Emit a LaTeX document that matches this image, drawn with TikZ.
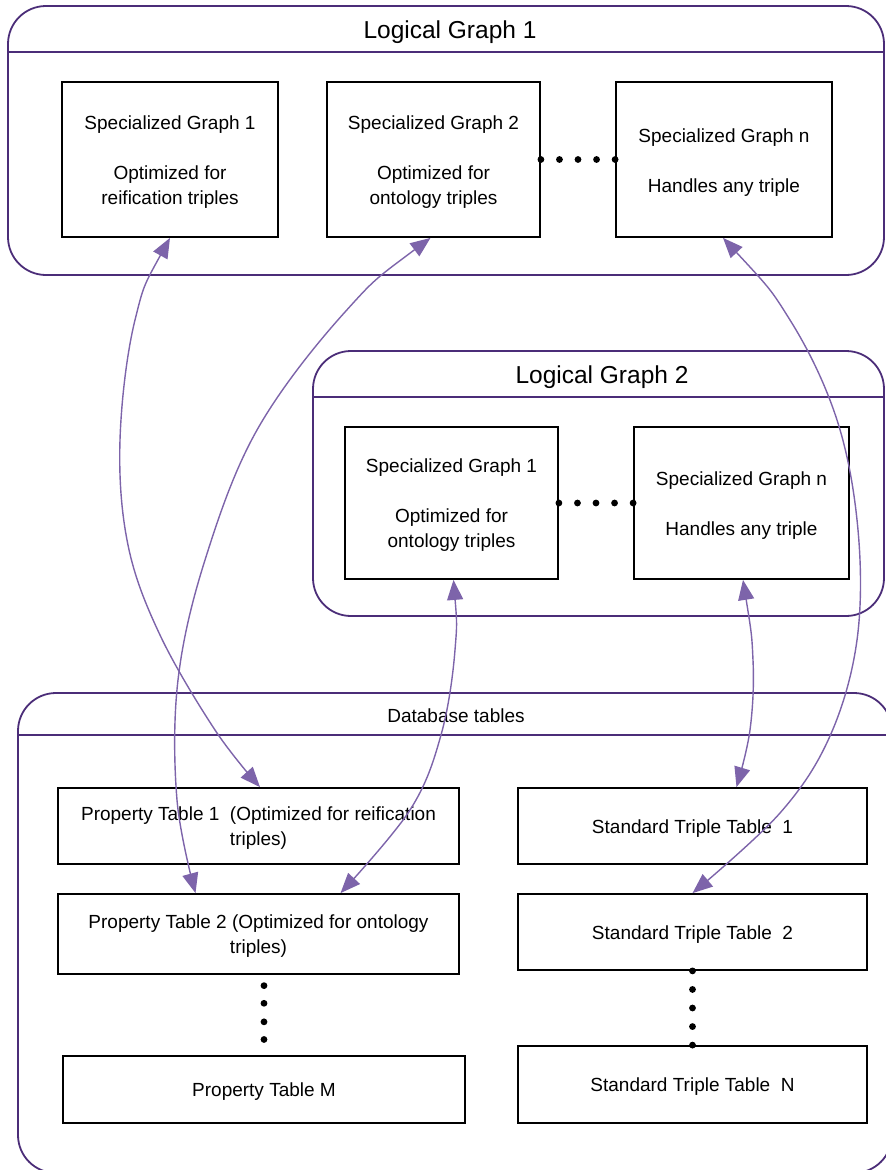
\documentclass[tikz,border=0pt]{standalone}
\usepackage{fontspec}
\setmainfont{Liberation Sans}
\usetikzlibrary{arrows.meta,calc}
\definecolor{contc}{RGB}{75,45,120}
\definecolor{arrc}{RGB}{125,100,170}
\begin{document}
\begin{tikzpicture}[x=1pt,y=-1pt,
  cont/.style={draw=contc, line width=1.8pt, rounded corners=38pt, inner sep=0pt, minimum width=#1},
  divline/.style={draw=contc, line width=1.8pt},
  box/.style={draw=black, line width=1.8pt, inner sep=0pt, align=center, font=\fontsize{19}{25}\selectfont},
  fourline/.style={text height=93pt},
  threeline/.style={text height=69pt},
  twoline/.style={text height=43pt},
  oneline/.style={text height=18.5pt},
  ttl/.style={font=\fontsize{24.5}{28}\selectfont},
  dbttl/.style={font=\fontsize{19}{22}\selectfont},
  link/.style={draw=arrc, line width=1.4pt, {Triangle[length=20pt,width=16pt]}-{Triangle[length=20pt,width=16pt]}},
  blackdot/.style={fill=black}]
\path[use as bounding box, clip] (0,0) rectangle (886,1170);

% containers
\node[cont=876pt, minimum height=269pt] (lg1) at (446,140.5) {};
\draw[divline] (lg1.north west) ++(0,47) -- ++(876,0);
\node[ttl] (lg1t) at (450,32) {Logical Graph 1};

\node[cont=571pt, minimum height=265pt] (lg2) at (598.5,483.5) {};
\draw[divline] (lg2.north west) ++(0,47) -- ++(571,0);
\node[ttl] (lg2t) at (602,377) {Logical Graph 2};

\node[cont=874pt, minimum height=480pt] (db) at (455,933) {};
\draw[divline] (db.north west) ++(0,43) -- ++(874,0);
\node[dbttl] (dbt) at (456,716) {Database tables};

% logical graph 1 boxes
\node[box, fourline, minimum width=216pt, minimum height=155pt] (lsg1) at (170,159.5)
  {Specialized Graph 1\\[25pt]Optimized for\\reification triples};
\node[box, fourline, minimum width=213pt, minimum height=155pt] (lsg2) at (433.5,159.5)
  {Specialized Graph 2\\[25pt]Optimized for\\ontology triples};
\node[box, threeline, minimum width=216pt, minimum height=155pt] (lsgn) at (724,159.5)
  {Specialized Graph n\\[25pt]Handles any triple};

% logical graph 2 boxes
\node[box, fourline, minimum width=213pt, minimum height=152pt] (msg1) at (451.5,503)
  {Specialized Graph 1\\[25pt]Optimized for\\ontology triples};
\node[box, threeline, minimum width=215pt, minimum height=152pt] (msgn) at (741.5,503)
  {Specialized Graph n\\[25pt]Handles any triple};

% database tables
\node[box, twoline, minimum width=401pt, minimum height=76pt] (pt1) at (258.5,826)
  {Property Table 1\ \ (Optimized for reification\\triples)};
\node[box, twoline, minimum width=401pt, minimum height=80pt] (pt2) at (258.5,934)
  {Property Table 2 (Optimized for ontology\\triples)};
\node[box, oneline, minimum width=402pt, minimum height=67pt] (ptm) at (264,1089.5)
  {Property Table M};
\node[box, oneline, minimum width=349pt, minimum height=76pt] (st1) at (692.5,826)
  {Standard Triple Table\ \ 1};
\node[box, oneline, minimum width=349pt, minimum height=76pt] (st2) at (692.5,932)
  {Standard Triple Table\ \ 2};
\node[box, oneline, minimum width=349pt, minimum height=77pt] (stn) at (692.5,1084.5)
  {Standard Triple Table\ \ N};

% dotted separators
\foreach \t in {0,0.25,0.5,0.75,1}
  \fill[blackdot] ($(lsg2.east)!\t!(lsgn.west)$) circle (3.4pt);
\foreach \t in {0,0.25,0.5,0.75,1}
  \fill[blackdot] ($(msg1.east)!\t!(msgn.west)$) circle (3.4pt);
\foreach \t in {0,0.25,0.5,0.75,1}
  \fill[blackdot] ($(st2.south)!\t!(stn.north)$) circle (3.4pt);
\foreach \t in {0.134,0.354,0.585,0.805}
  \fill[blackdot] ($(pt2.south -| ptm.north)!\t!(ptm.north)$) circle (3.4pt);

% links
\draw[link] plot[smooth,tension=0.6] coordinates {(lsg1.south) (135,320) (120,440) (128,545) (160,635) (215,730) ([xshift=1.5pt]pt1.north)};
\draw[link] plot[smooth,tension=0.6] coordinates {([xshift=-3pt]lsg2.south) (345,312) (257,430) (205,560) (178,680) (177,800) ([xshift=-63pt]pt2.north)};
\draw[link] plot[smooth,tension=0.6] coordinates {([xshift=-1pt]lsgn.south) (790,320) (837,420) (858,530) (857,640) (830,736) (780,813) (pt2.north -| st2.north)};
\draw[link] plot[smooth,tension=0.6] coordinates {([xshift=2pt]msg1.south) (455,650) (441,735) (410,810) ([xshift=82pt]pt2.north)};
\draw[link] plot[smooth,tension=0.6] coordinates {([xshift=1.5pt]msgn.south) (753,660) (750,730) ([xshift=44pt]st1.north)};
\end{tikzpicture}
\end{document}
